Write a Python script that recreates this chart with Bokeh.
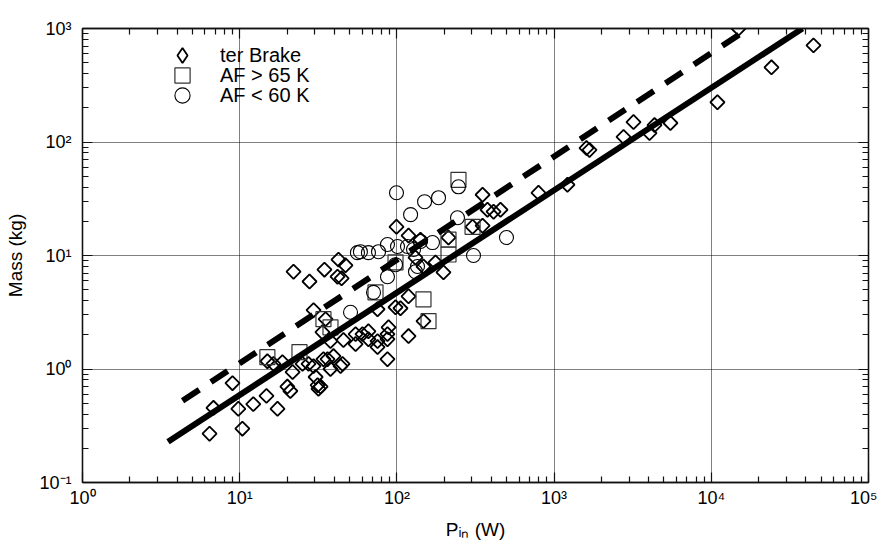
import numpy as np
from bokeh.plotting import figure
from bokeh.models import (Legend, LegendItem, LogAxis, FixedTicker,
                          CustomJSTickFormatter, Range1d)
from bokeh.embed import file_html
from bokeh.resources import INLINE

# ---------------- data ----------------
brake_p = [6.43, 6.81, 9.0, 9.8, 10.4, 12.2, 14.8, 17.4, 15.0, 16.4, 18.7, 20.1, 21.0,
           21.7, 25.1, 27.4, 29.5, 30.4, 31.3, 31.7, 32.7, 34.1, 36.2, 37.8, 39.5, 43.8,
           45.1, 29.5, 35.2, 33.6, 37.8, 45.7, 54.6, 54.6, 60.4, 65.9, 65.9, 75.3, 75.3,
           87.1, 87.1, 88.5, 87.1, 75.3, 27.8, 44.5, 22.0, 34.6, 42.5, 47.1, 41.9,
           99.4, 118.6, 141.3, 131.3, 147.6, 176.0, 197.8, 212.9, 302.9, 350.8, 350.8,
           376.8, 412.0, 456.0, 118.6, 98.0, 105.4, 147.6, 118.6,
           795.6, 1216, 1607, 1679, 2765, 3200, 4046, 4353, 5495, 10940, 14900, 24150, 44670]
brake_m = [0.269, 0.455, 0.75, 0.446, 0.298, 0.49, 0.58, 0.446, 1.17, 1.11, 1.15, 0.70, 0.64,
           0.94, 1.11, 1.11, 1.06, 0.85, 0.72, 0.67, 0.70, 1.22, 1.22, 1.00, 1.30, 1.06,
           1.11, 3.30, 2.75, 2.11, 1.76, 1.80, 1.66, 2.03, 2.03, 1.83, 2.15, 1.56, 1.76,
           1.83, 2.03, 2.33, 1.22, 3.36, 5.9, 6.3, 7.2, 7.5, 9.2, 8.2, 6.5,
           17.9, 15.0, 13.8, 9.6, 8.0, 8.7, 7.1, 14.4, 17.9, 18.3, 34.3,
           25.3, 24.3, 25.3, 4.37, 3.50, 3.43, 2.64, 1.95,
           35.7, 42.0, 88.5, 85.1, 111, 150, 120, 141, 147, 224, 1000, 455, 710]

af_hi_p = [15.0, 24.0, 34.1, 37.8, 73.1, 98.0, 147.6, 158.9, 246.4, 212.9, 212.9, 302.9]
af_hi_m = [1.27, 1.41, 2.75, 2.33, 4.73, 8.7, 4.11, 2.64, 46.4, 13.8, 10.2, 17.9]

af_lo_p = [99.4, 150.0, 184.0, 122.2, 246.4, 242.9, 497.7, 307.1, 168.4, 87.1, 100.9, 116.8,
           56.1, 58.6, 65.9, 76.4, 127.6, 141.3, 98.0, 87.1, 131.3, 135.2, 50.7, 71.0]
af_lo_m = [35.7, 29.8, 32.3, 22.9, 40.3, 21.5, 14.4, 10.0, 13.0, 12.5, 12.0, 12.0,
           10.6, 10.8, 10.6, 10.8, 11.3, 13.3, 8.3, 6.5, 7.2, 8.0, 3.16, 4.73]

fit_solid_p = [3.5, 38000]
fit_solid_m = [0.229, 1000]
fit_dash_p = [4.33, 17300]
fit_dash_m = [0.525, 1000]

x_ticks = [1, 10, 100, 1000, 10000, 100000]
x_tick_labels = ["10⁰", "10¹", "10²", "10³", "10⁴", "10⁵"]
y_ticks = [0.1, 1, 10, 100, 1000]
y_tick_labels = ["10⁻¹", "10⁰", "10¹", "10²", "10³"]
legend_labels = ["ter Brake", "AF > 65 K", "AF < 60 K"]
x_title = "Pᵢₙ (W)"
y_title = "Mass (kg)"

FONT = "Liberation Sans"
INK = "#111111"

# ---------------- figure ----------------
p = figure(width=877, height=542, x_axis_type="log", y_axis_type="log",
           x_range=Range1d(1, 1e5), y_range=Range1d(0.1, 1000),
           output_backend="svg", toolbar_location=None,
           min_border_left=82, min_border_right=9, min_border_top=28, min_border_bottom=58)
p.outline_line_color = INK
p.outline_line_width = 1.3
p.background_fill_color = "white"
p.border_fill_color = "white"


def minors(ticks):
    return [m * t for t in ticks[:-1] for m in range(2, 10)]


def style_axis(ax, ticks):
    ax.ticker = FixedTicker(ticks=ticks, minor_ticks=minors(ticks))
    ax.major_tick_in = 10
    ax.major_tick_out = 0
    ax.minor_tick_in = 6
    ax.minor_tick_out = 0
    ax.axis_line_color = INK
    ax.axis_line_width = 1.3
    ax.major_tick_line_color = INK
    ax.major_tick_line_width = 1.2
    ax.minor_tick_line_color = INK
    ax.minor_tick_line_width = 1.2
    ax.major_label_text_font = FONT
    ax.major_label_text_font_size = "18px"
    ax.major_label_text_color = "black"
    ax.axis_label_text_font = FONT
    ax.axis_label_text_font_style = "normal"
    ax.axis_label_text_font_size = "19px"
    ax.axis_label_text_color = "black"


xa = p.xaxis[0]
style_axis(xa, x_ticks)
xa.major_label_overrides = dict(zip(x_ticks, x_tick_labels))
xa.major_label_standoff = 5
xa.axis_label = x_title
xa.axis_label_standoff = 8

ya = p.yaxis[0]
style_axis(ya, y_ticks)
ya.major_label_overrides = dict(zip(y_ticks, y_tick_labels))
ya.major_label_standoff = 11
ya.axis_label = y_title
ya.axis_label_standoff = 10

for side, ticks in (("above", x_ticks), ("right", y_ticks)):
    ax = LogAxis()
    style_axis(ax, ticks)
    ax.formatter = CustomJSTickFormatter(code="return ''")
    ax.major_label_standoff = 0
    ax.major_label_text_font_size = "2px"
    p.add_layout(ax, side)

for g in (p.xgrid[0], p.ygrid[0]):
    g.grid_line_color = "black"
    g.grid_line_width = 1
    g.grid_line_dash = "1 1"
p.xgrid[0].ticker = FixedTicker(ticks=x_ticks)
p.ygrid[0].ticker = FixedTicker(ticks=y_ticks)

# ---------------- data marks ----------------
r_brake = p.scatter(brake_p, brake_m, marker="square", angle=np.pi / 4, size=10,
                    fill_color=None, line_color="black", line_width=1.8)
r_hi = p.scatter(af_hi_p, af_hi_m, marker="square", size=15,
                 fill_color=None, line_color="#333333", line_width=1.2)
r_lo = p.scatter(af_lo_p, af_lo_m, marker="circle", size=14,
                 fill_color=None, line_color="black", line_width=1.1)

p.line(fit_dash_p, fit_dash_m, line_color="black", line_width=6, line_dash="20 14")
p.line(fit_solid_p, fit_solid_m, line_color="black", line_width=6)

# legend-only swatch for the diamonds (legend markers are drawn unrotated);
# its single point is NaN, so nothing is drawn in the plot area
r_brake_key = p.scatter([float("nan")], [float("nan")], marker="diamond", size=15,
                        fill_color=None, line_color="black", line_width=1.8)

# ---------------- legend (one item per legend so each marker keeps its size) ----------------
legend_specs = [(r_brake_key, (81, 408)), (r_hi, (81, 388)), (r_lo, (81, 368))]
for (rend, loc), lab in zip(legend_specs, legend_labels):
    lg = Legend(items=[LegendItem(label=lab, renderers=[rend], index=0)], location=loc,
                glyph_width=38, glyph_height=38, label_standoff=19,
                padding=0, margin=0, spacing=0, border_line_color=None,
                background_fill_alpha=0, label_text_font=FONT,
                label_text_font_size="20px", label_text_color="black")
    p.add_layout(lg)

open("out.html", "w").write(file_html(p, INLINE))
